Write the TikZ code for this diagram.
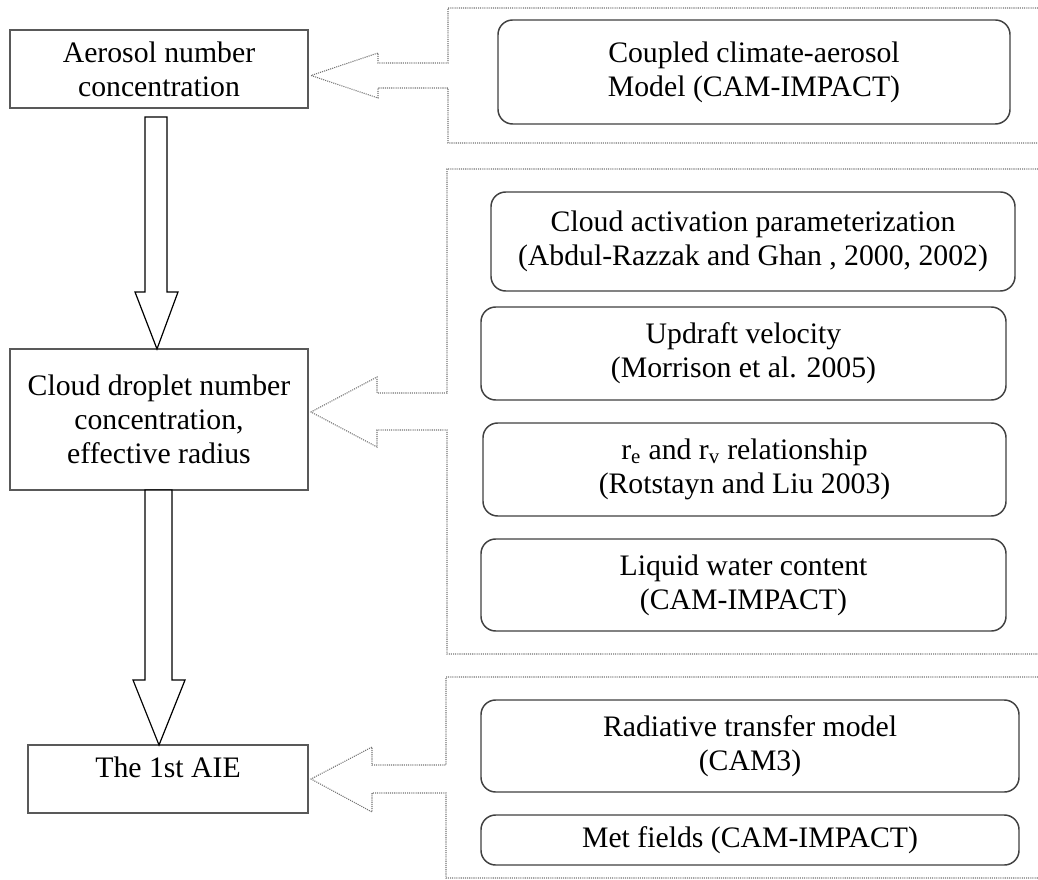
\documentclass[tikz,border=0pt]{standalone}
\usepackage{fontspec}
\setmainfont{Liberation Serif}
\usetikzlibrary{calc}
\begin{document}
\begin{tikzpicture}[x=0.75pt,y=-0.75pt,
  txtfont/.style={font=\fontsize{22.3pt}{25.5pt}\selectfont},
  lbox/.style={draw=black!65, line width=1.4pt, fill=white, inner sep=0pt, align=center, txtfont},
  rbox/.style={draw=black!75, line width=1.1pt, rounded corners=11pt, fill=white, inner sep=0pt, align=center, txtfont},
  dotline/.style={draw=black!55, line width=0.8pt, dash pattern=on 0.8pt off 0.8pt},
  blockarrow/.style={draw=black, line width=0.9pt, fill=white, line join=miter}]
\useasboundingbox (0,0) rectangle (1038,880);

% left column
\node[lbox, minimum width=223.5pt, minimum height=58.5pt] (aer) at (159,69) {Aerosol number\\concentration};
\node[lbox, minimum width=223.5pt, minimum height=105.75pt] (cdn) at (159,419.5) {Cloud droplet number\\concentration,\\effective radius};
\node[lbox, minimum width=210pt, minimum height=51pt, text depth=17pt] (aie) at (168,779) {The 1st AIE};

\coordinate (tipA) at (157,349);
\coordinate (tipB) at (159,745);
\draw[blockarrow] (145,117) -- (167,117) -- (167,292) -- (178,292) -- (tipA) -- (135,292) -- (145,292) -- cycle;
\draw[blockarrow] (145,490) -- (172,490) -- (172,680) -- (185,680) -- (tipB) -- (133,680) -- (145,680) -- cycle;

% right boxes
\node[rbox, minimum width=384pt, minimum height=78pt] (cpl) at (754,72) {Coupled climate-aerosol\\Model (CAM-IMPACT)};
\node[rbox, minimum width=393pt, minimum height=74.25pt] (act) at (753,241.5) {Cloud activation parameterization\\(Abdul-Razzak and Ghan , 2000, 2002)};
\node[rbox, minimum width=393.75pt, minimum height=69.75pt] (upd) at (743.5,353.5) {Updraft velocity\\(Morrison et al. 2005)};
\node[rbox, minimum width=392.25pt, minimum height=69.75pt] (rer) at (744.5,469.5) {r\textsubscript{e} and r\textsubscript{v} relationship\\(Rotstayn and Liu 2003)};
\node[rbox, minimum width=393.75pt, minimum height=69pt] (lwc) at (743.5,585) {Liquid water content\\(CAM-IMPACT)};
\node[rbox, minimum width=403.5pt, minimum height=69pt] (rad) at (750,746) {Radiative transfer model\\(CAM3)};
\node[rbox, minimum width=403.5pt, minimum height=37.5pt] (met) at (750,840) {Met fields (CAM-IMPACT)};

% dotted containers with arrow notches
\coordinate (t1) at (311,75.5);
\coordinate (t2) at (311,412);
\coordinate (t3) at (311,779);
\draw[dotline] (1038,8) -- (448,8) -- (448,63) -- (378,63) -- (378,53) -- (t1) -- (378,98) -- (378,88) -- (448,88) -- (448,143) -- (1038,143);
\draw[dotline] (1038,169) -- (447,169) -- (447,393) -- (377,393) -- (377,377) -- (t2) -- (377,447) -- (377,430) -- (447,430) -- (447,654) -- (1038,654);
\draw[dotline] (1038,677) -- (446,677) -- (446,765) -- (372,765) -- (372,747) -- (t3) -- (372,812) -- (372,793) -- (446,793) -- (446,878) -- (1038,878);
\end{tikzpicture}
\end{document}
